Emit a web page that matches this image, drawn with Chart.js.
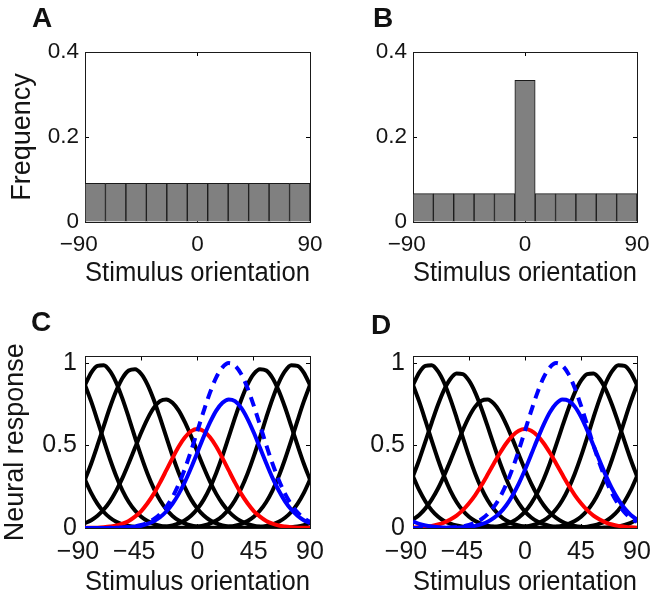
<!DOCTYPE html>
<html><head><meta charset="utf-8">
<script src="https://cdn.jsdelivr.net/npm/chart.js@4.4.1/dist/chart.umd.min.js"></script>
<style>
html,body{margin:0;padding:0;background:#fff;}
#wrap{position:relative;width:652px;height:596px;overflow:hidden;background:#fff;}
canvas{position:absolute;}
.lbl{position:absolute;font-family:"Liberation Sans",Arial,sans-serif;font-weight:bold;font-size:28px;line-height:28px;color:#111;}
</style></head><body>
<div id="wrap">
<canvas id="cA" width="326" height="300" style="left:0;top:0"></canvas>
<canvas id="cB" width="326" height="300" style="left:326px;top:0"></canvas>
<canvas id="cC" width="326" height="296" style="left:0;top:300px"></canvas>
<canvas id="cD" width="326" height="296" style="left:326px;top:300px"></canvas>
<div class="lbl" style="left:32px;top:4px">A</div>
<div class="lbl" style="left:373px;top:4px">B</div>
<div class="lbl" style="left:31px;top:308px">C</div>
<div class="lbl" style="left:371px;top:311px">D</div>
</div>
<script>
// ---------- data ----------
const binCenters = [-81.82,-65.45,-49.09,-32.73,-16.36,0,16.36,32.73,49.09,65.45,81.82];
const freqA = [0.0909,0.0909,0.0909,0.0909,0.0909,0.0909,0.0909,0.0909,0.0909,0.0909,0.0909];
const freqB = [0.0667,0.0667,0.0667,0.0667,0.0667,0.3333,0.0667,0.0667,0.0667,0.0667,0.0667];

const orientation = [-90,-85,-80,-75,-70,-65,-60,-55,-50,-45,-40,-35,-30,-25,-20,-15,-10,-5,0,5,10,15,20,25,30,35,40,45,50,55,60,65,70,75,80,85,90];

// Panel C tuning curves
const cNeuron1 = [0.867,0.942,0.983,0.987,0.951,0.881,0.783,0.670,0.550,0.434,0.329,0.240,0.168,0.113,0.073,0.045,0.027,0.015,0.009,0.005,0.002,0.002,0.004,0.008,0.014,0.025,0.042,0.068,0.106,0.158,0.227,0.314,0.417,0.531,0.651,0.766,0.867];
const cNeuron2 = [0.293,0.391,0.502,0.618,0.732,0.832,0.910,0.955,0.963,0.934,0.870,0.778,0.669,0.553,0.438,0.334,0.245,0.172,0.117,0.076,0.047,0.028,0.016,0.009,0.005,0.003,0.002,0.004,0.007,0.013,0.022,0.038,0.062,0.097,0.146,0.211,0.293];
const cNeuron3 = [0.029,0.047,0.074,0.112,0.162,0.227,0.304,0.393,0.486,0.579,0.662,0.728,0.769,0.780,0.760,0.712,0.640,0.554,0.460,0.367,0.281,0.207,0.147,0.100,0.065,0.041,0.025,0.014,0.008,0.004,0.002,0.001,0.003,0.005,0.009,0.017,0.029];
const cRed = [0.001,0.001,0.002,0.005,0.009,0.015,0.026,0.043,0.069,0.103,0.150,0.207,0.275,0.349,0.424,0.494,0.550,0.587,0.600,0.587,0.550,0.494,0.424,0.349,0.275,0.207,0.150,0.103,0.069,0.043,0.026,0.015,0.009,0.005,0.002,0.001,0.001];
const cBlue = [0.000,0.000,0.000,0.000,0.000,0.001,0.002,0.004,0.008,0.014,0.025,0.041,0.065,0.100,0.147,0.207,0.281,0.367,0.460,0.554,0.640,0.712,0.760,0.780,0.769,0.728,0.662,0.579,0.486,0.393,0.304,0.227,0.162,0.112,0.074,0.047,0.029];
const cNeuron5 = [0.293,0.211,0.146,0.097,0.062,0.038,0.022,0.013,0.007,0.004,0.002,0.003,0.005,0.009,0.016,0.028,0.047,0.076,0.117,0.172,0.245,0.334,0.438,0.553,0.669,0.778,0.870,0.934,0.963,0.955,0.910,0.832,0.732,0.618,0.502,0.391,0.293];
const cNeuron6 = [0.867,0.766,0.651,0.531,0.417,0.314,0.227,0.158,0.106,0.068,0.042,0.025,0.014,0.008,0.004,0.002,0.002,0.005,0.009,0.015,0.027,0.045,0.073,0.113,0.168,0.240,0.329,0.434,0.550,0.670,0.783,0.881,0.951,0.987,0.983,0.942,0.867];
const unadapted = [0.000,0.000,0.000,0.000,0.001,0.001,0.003,0.006,0.010,0.018,0.032,0.053,0.084,0.128,0.188,0.266,0.361,0.471,0.590,0.710,0.821,0.913,0.974,1.000,0.985,0.933,0.849,0.742,0.624,0.503,0.390,0.291,0.208,0.143,0.095,0.060,0.037];

// Panel D tuning curves
const dNeuron1 = [0.867,0.942,0.983,0.987,0.951,0.881,0.783,0.670,0.550,0.434,0.329,0.240,0.168,0.113,0.073,0.045,0.027,0.015,0.009,0.005,0.002,0.002,0.004,0.008,0.014,0.025,0.042,0.068,0.106,0.158,0.227,0.314,0.417,0.531,0.651,0.766,0.867];
const dNeuron2 = [0.314,0.414,0.525,0.638,0.746,0.838,0.904,0.937,0.933,0.893,0.821,0.725,0.616,0.502,0.393,0.296,0.214,0.149,0.099,0.064,0.039,0.023,0.013,0.007,0.004,0.002,0.002,0.004,0.008,0.015,0.026,0.043,0.070,0.108,0.161,0.229,0.314];
const dNeuron3 = [0.050,0.079,0.119,0.172,0.238,0.318,0.407,0.501,0.593,0.674,0.736,0.772,0.779,0.754,0.702,0.627,0.539,0.445,0.353,0.269,0.197,0.138,0.093,0.061,0.038,0.023,0.013,0.007,0.004,0.002,0.001,0.003,0.006,0.010,0.018,0.031,0.050];
const dRed = [0.002,0.004,0.008,0.013,0.021,0.033,0.051,0.075,0.108,0.150,0.200,0.259,0.324,0.391,0.456,0.514,0.560,0.590,0.600,0.590,0.560,0.514,0.456,0.391,0.324,0.259,0.200,0.150,0.108,0.075,0.051,0.033,0.021,0.013,0.008,0.004,0.002];
const dBlue = [0.040,0.025,0.015,0.009,0.005,0.003,0.001,0.002,0.004,0.007,0.013,0.023,0.038,0.061,0.093,0.138,0.197,0.269,0.353,0.445,0.539,0.627,0.702,0.754,0.779,0.772,0.736,0.674,0.593,0.501,0.407,0.318,0.238,0.172,0.119,0.079,0.050];
const dNeuron5 = [0.314,0.229,0.161,0.108,0.070,0.043,0.026,0.015,0.008,0.004,0.002,0.002,0.004,0.007,0.013,0.023,0.039,0.064,0.099,0.149,0.214,0.296,0.393,0.502,0.616,0.725,0.821,0.893,0.933,0.937,0.904,0.838,0.746,0.638,0.525,0.414,0.314];
const dNeuron6 = [0.867,0.766,0.651,0.531,0.417,0.314,0.227,0.158,0.106,0.068,0.042,0.025,0.014,0.008,0.004,0.002,0.002,0.005,0.009,0.015,0.027,0.045,0.073,0.113,0.168,0.240,0.329,0.434,0.550,0.670,0.783,0.881,0.951,0.987,0.983,0.942,0.867];

// ticks (negative labels carry trailing no-break spaces so the digits sit centred on the tick, as in the original)
const histXTicks = [-90, 0, 90];
const histXTickLabels = ['\u221290\u00a0\u00a0', '0', '90'];
const histYTicks = [0, 0.2, 0.4];
const histYTickLabels = ['0', '0.2', '0.4'];
const tuneXTicks = [-90, -45, 0, 45, 90];
const tuneXTickLabels = ['\u221290\u00a0\u00a0', '\u221245\u00a0\u00a0', '0', '45', '90'];
const tuneYTicks = [0, 0.5, 1];
const tuneYTickLabels = ['0', '0.5', '1'];

// ---------- rendering ----------
const FONT = '"Liberation Sans", Arial, Helvetica, sans-serif';
const TXT = '#141414';
Chart.defaults.font.family = FONT;

function pts(xs, ys) { return xs.map((x, i) => ({x: x, y: ys[i]})); }

function setTicks(vals) { return s => { s.ticks = vals.map(v => ({value: v})); }; }

function makeScales(o) {
  const gridOpts = {display: true, drawOnChartArea: false, drawTicks: true, tickLength: -4, color: '#000', lineWidth: 1, offset: false};
  const borderOpts = {display: true, color: '#1a1a1a', width: 1};
  return {
    x: {
      type: 'linear', position: 'bottom', min: -90, max: 90, offset: false, display: true,
      afterBuildTicks: setTicks(o.xTicks),
      afterFit: s => { s.height = o.xHeight; s.paddingLeft = 0; s.paddingRight = 0; },
      ticks: {callback: (v, i) => o.xLabels[i], font: {family: FONT, size: o.tickSize, lineHeight: 1}, color: TXT, padding: o.xPad, maxRotation: 0, autoSkip: false},
      grid: gridOpts, border: borderOpts,
      title: {display: true, text: 'Stimulus orientation', color: TXT, font: {family: FONT, size: 27, lineHeight: 1}, padding: {top: 0, bottom: o.xTitlePad}}
    },
    x2: {
      type: 'linear', position: 'top', min: -90, max: 90, offset: false, display: true,
      afterBuildTicks: setTicks(o.xTicks),
      afterFit: s => { s.height = 0; s.paddingLeft = 0; s.paddingRight = 0; },
      ticks: {display: false}, grid: gridOpts, border: borderOpts
    },
    y: {
      type: 'linear', position: 'left', min: 0, max: o.yMax, display: true,
      afterBuildTicks: setTicks(o.yTicks),
      afterFit: s => { s.width = o.yWidth; s.paddingTop = 0; s.paddingBottom = 0; },
      ticks: {callback: (v, i) => o.yLabels[i], font: {family: FONT, size: o.tickSize, lineHeight: 1}, color: TXT, padding: o.yPad},
      grid: gridOpts, border: borderOpts,
      title: {display: !!o.yTitle, text: o.yTitle || '', color: TXT, font: {family: FONT, size: 27, lineHeight: 1}, padding: {top: 0, bottom: 0}}
    },
    y2: {
      type: 'linear', position: 'right', min: 0, max: o.yMax, display: true,
      afterBuildTicks: setTicks(o.yTicks),
      afterFit: s => { s.width = 0; s.paddingTop = 0; s.paddingBottom = 0; },
      ticks: {display: false}, grid: gridOpts, border: borderOpts
    }
  };
}

const commonOpts = {
  responsive: false, maintainAspectRatio: false, animation: false, events: [],
  plugins: {legend: {display: false}, tooltip: {enabled: false}, title: {display: false}}
};

function histChart(id, freq, o) {
  new Chart(document.getElementById(id), {
    type: 'bar',
    data: {datasets: [{
      data: pts(binCenters, freq), xAxisID: 'x', yAxisID: 'y',
      backgroundColor: '#808080', borderColor: '#1a1a1a',
      borderWidth: {top: 1, left: 1, right: 1, bottom: 0}, borderSkipped: false,
      barPercentage: 1, categoryPercentage: 1
    }]},
    options: Object.assign({}, commonOpts, {
      layout: {padding: o.padding},
      scales: makeScales(Object.assign({xTicks: histXTicks, xLabels: histXTickLabels, yTicks: histYTicks, yLabels: histYTickLabels, yMax: 0.4, tickSize: 22.5, xPad: 15.25}, o))
    })
  });
}

function line(data, color, dash) {
  return {data: pts(orientation, data), xAxisID: 'x', yAxisID: 'y', borderColor: color, borderWidth: 4,
          borderDash: dash || [], pointRadius: 0, fill: false, cubicInterpolationMode: 'monotone',
          borderCapStyle: 'butt', borderJoinStyle: 'round'};
}

function tuneChart(id, sets, o) {
  new Chart(document.getElementById(id), {
    type: 'line',
    data: {datasets: [
      line(unadapted, '#0000ff', [10, 7]),
      line(sets.blue, '#0000ff'),
      line(sets.red, '#ff0000'),
      line(sets.n1, '#000'), line(sets.n2, '#000'), line(sets.n3, '#000'),
      line(sets.n5, '#000'), line(sets.n6, '#000')
    ]},
    options: Object.assign({}, commonOpts, {
      layout: {padding: o.padding},
      scales: makeScales(Object.assign({xTicks: tuneXTicks, xLabels: tuneXTickLabels, yTicks: tuneYTicks, yLabels: tuneYTickLabels, yMax: 1.04, tickSize: 25, xPad: 15.2}, o))
    })
  });
}

histChart('cA', freqA, {padding: {left: 9, right: 16, top: 52, bottom: 0}, yWidth: 76, xHeight: 78, yPad: 10, xTitlePad: 13.2, yTitle: 'Frequency'});
histChart('cB', freqB, {padding: {left: 0, right: 15, top: 52, bottom: 0}, yWidth: 87, xHeight: 78, yPad: 10, xTitlePad: 13.2});
tuneChart('cC', {n1: cNeuron1, n2: cNeuron2, n3: cNeuron3, red: cRed, blue: cBlue, n5: cNeuron5, n6: cNeuron6},
  {padding: {left: 2, right: 16, top: 56.5, bottom: 0}, yWidth: 83, xHeight: 68, yPad: 12, xTitlePad: 0.2, yTitle: 'Neural response'});
tuneChart('cD', {n1: dNeuron1, n2: dNeuron2, n3: dNeuron3, red: dRed, blue: dBlue, n5: dNeuron5, n6: dNeuron6},
  {padding: {left: 0, right: 15, top: 56.5, bottom: 0}, yWidth: 87, xHeight: 68, yPad: 12, xTitlePad: 0.2});
</script>
</body></html>
